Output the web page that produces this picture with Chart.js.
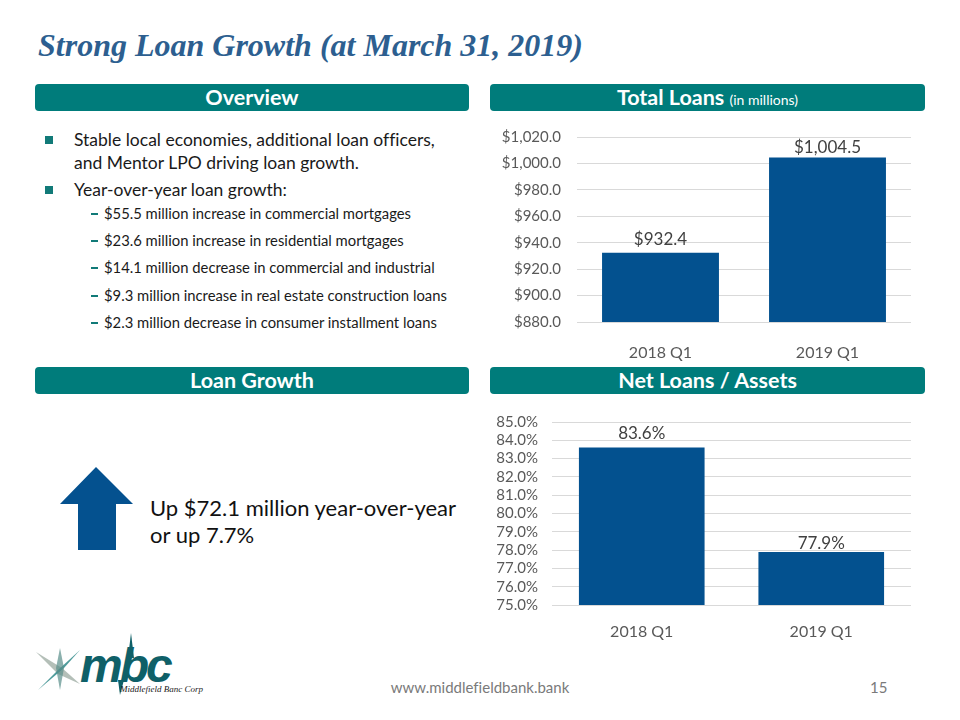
<!DOCTYPE html>
<html>
<head>
<meta charset="utf-8">
<script src="https://cdn.jsdelivr.net/npm/chart.js@4.4.1/dist/chart.umd.min.js"></script>
<style>
  html, body { margin: 0; padding: 0; background: #fff; }
  body { width: 960px; height: 720px; position: relative; overflow: hidden; font-family: 'Lato', 'Open Sans', sans-serif; color: #1a1a1a; font-variant-ligatures: none; }
  .abs { position: absolute; }
  .title { left: 38px; top: 27px; font-family: 'Liberation Serif', 'Times New Roman', serif; font-weight: bold; font-style: italic; font-size: 32px; color: #2d5f90; white-space: nowrap; }
  .hdr { background: #007c7b; border-radius: 4px; color: #fff; font-weight: bold; font-size: 21.5px; text-align: center; line-height: 27px; height: 27px; }
  .hdr small { font-weight: normal; font-size: 14px; }
  .bul { left: 74px; font-size: 17.5px; line-height: 23px; white-space: nowrap; }
  .bul::before { content: ''; position: absolute; left: -29px; top: 8px; width: 8px; height: 8px; background: #117a78; }
  .sub { left: 104px; font-size: 14.8px; white-space: nowrap; line-height: 18px; }
  .sub::before { content: ''; position: absolute; left: -13px; top: 9px; width: 7px; height: 1.5px; background: #117a78; }
  .up { left: 150px; top: 494px; font-size: 22px; line-height: 27px; color: #111; white-space: nowrap; }
  .foot { color: #7a7a7a; font-size: 15px; }
</style>
</head>
<body>
<div class="abs title">Strong Loan Growth (at March 31, 2019)</div>

<div class="abs hdr" style="left:35px; top:84px; width:434px;">Overview</div>
<div class="abs hdr" style="left:490px; top:84px; width:435px;">Total Loans <small>(in millions)</small></div>
<div class="abs hdr" style="left:35px; top:367px; width:434px;">Loan Growth</div>
<div class="abs hdr" style="left:490px; top:367px; width:435px;">Net Loans / Assets</div>

<div class="abs bul" style="top:128px;">Stable local economies, additional loan officers,<br>and Mentor LPO driving loan growth.</div>
<div class="abs bul" style="top:178px;">Year-over-year loan growth:</div>
<div class="abs sub" style="top:204px;">$55.5 million increase in commercial mortgages</div>
<div class="abs sub" style="top:231px;">$23.6 million increase in residential mortgages</div>
<div class="abs sub" style="top:258px;">$14.1 million decrease in commercial and industrial</div>
<div class="abs sub" style="top:286px;">$9.3 million increase in real estate construction loans</div>
<div class="abs sub" style="top:313px;">$2.3 million decrease in consumer installment loans</div>

<svg class="abs" style="left:0; top:0;" width="960" height="720" pointer-events="none">
  <polygon points="96,467 133,504 116,504 116,550 78,550 78,504 60,504" fill="#04518f"/>
  <!-- logo -->
  <polygon points="36,652 62,668 80,684 58,674" fill="#a7b4ab" opacity="0.85"/>
  <polygon points="80,650 64,668 38,690 58,670" fill="#2f8a8a" opacity="0.85"/>
  <polygon points="60,648 64,668 60,690 56,668" fill="#5a8f8a" opacity="0.7"/>
  <polygon points="131,633 134,658 128,658" fill="#0f6068"/>
  <polygon points="118,680 124,680 120,695" fill="#0f6068"/>
  <text x="80" y="682" font-family="Liberation Sans, sans-serif" font-weight="bold" font-style="italic" font-size="48" fill="#0f6068" letter-spacing="-3">mbc</text>
  <text x="120" y="692" font-family="Liberation Serif, serif" font-style="italic" font-size="9" fill="#222">Middlefield Banc Corp</text>
</svg>
<div class="abs up">Up $72.1 million year-over-year<br>or up 7.7%</div>

<canvas id="loansChart" class="abs" style="left:490px; top:120px;" width="435" height="245"></canvas>
<canvas id="ratioChart" class="abs" style="left:490px; top:400px;" width="435" height="250"></canvas>

<div class="abs foot" style="left:380px; top:678px; width:200px; text-align:center;">www.middlefieldbank.bank</div>
<div class="abs foot" style="left:870px; top:678px;">15</div>

<script>
'use strict';

// ---- Data ----
const quarters = ['2018 Q1', '2019 Q1'];
const totalLoans = [932.4, 1004.5];          // $ millions
const loansAxis = { min: 880, max: 1020, step: 20 };
const netLoansToAssets = [83.6, 77.9];       // percent
const ratioAxis = { min: 75, max: 85, step: 1 };

const BAR_COLOR = '#03518f';
const FONT = "'Lato', 'Open Sans', sans-serif";

const fmtMoney = v => '$' + Number(v).toLocaleString('en-US', { minimumFractionDigits: 1, maximumFractionDigits: 1 });
const fmtPct = v => Number(v).toFixed(1) + '%';

// Value labels above bars (offset per bar, px above the bar top)
const valueLabels = {
  id: 'valueLabels',
  afterDatasetsDraw(chart, args, opts) {
    const ctx = chart.ctx;
    const ds = chart.data.datasets[0];
    ctx.save();
    ctx.font = '17px ' + FONT;
    ctx.fillStyle = '#404040';
    ctx.textAlign = 'center';
    ctx.textBaseline = 'bottom';
    chart.getDatasetMeta(0).data.forEach((bar, i) => {
      ctx.fillText(opts.format(ds.data[i]), bar.x, bar.y - opts.offsets[i]);
    });
    ctx.restore();
  }
};

function barChart(id, values, axis, fmt, dims) {
  const ctx = document.getElementById(id).getContext('2d');
  return new Chart(ctx, {
    type: 'bar',
    data: {
      labels: quarters,
      datasets: [{
        data: values,
        backgroundColor: BAR_COLOR,
        borderWidth: 0,
        categoryPercentage: 1,
        barPercentage: dims.bar,
      }]
    },
    plugins: [valueLabels],
    options: {
      responsive: false,
      animation: false,
      layout: { padding: { top: dims.top, right: dims.right, left: 0, bottom: 0 } },
      plugins: {
        legend: { display: false },
        tooltip: { enabled: false },
        valueLabels: { format: fmt, offsets: dims.labelOffsets }
      },
      scales: {
        x: {
          grid: { display: false },
          border: { display: false },
          ticks: { color: '#595959', font: { family: FONT, size: 16 }, padding: dims.xPad },
          afterFit: s => { s.height = dims.xHeight; }
        },
        y: {
          min: axis.min,
          max: axis.max,
          grid: { color: '#d9d9d9', drawTicks: false, lineWidth: 1 },
          border: { display: false },
          ticks: { stepSize: axis.step, autoSkip: false, color: '#595959', font: { family: FONT, size: 15 }, padding: dims.yPad, callback: fmt },
          // fixed axis width; drop the tick padding Chart.js adds above/below the plot
          afterFit: s => { s.width = dims.yWidth; s.paddingTop = 9; s.paddingBottom = 9; }
        }
      }
    }
  });
}

barChart('loansChart', totalLoans, loansAxis, fmtMoney,
  { top: 17, right: 14, yWidth: 87, xHeight: 43, xPad: 13, yPad: 16, bar: 0.7, labelOffsets: [5, 1] });
barChart('ratioChart', netLoansToAssets, ratioAxis, fmtPct,
  { top: 22, right: 14, yWidth: 62, xHeight: 45, xPad: 9, yPad: 14, bar: 0.7, labelOffsets: [6, 0] });
</script>
</body>
</html>
